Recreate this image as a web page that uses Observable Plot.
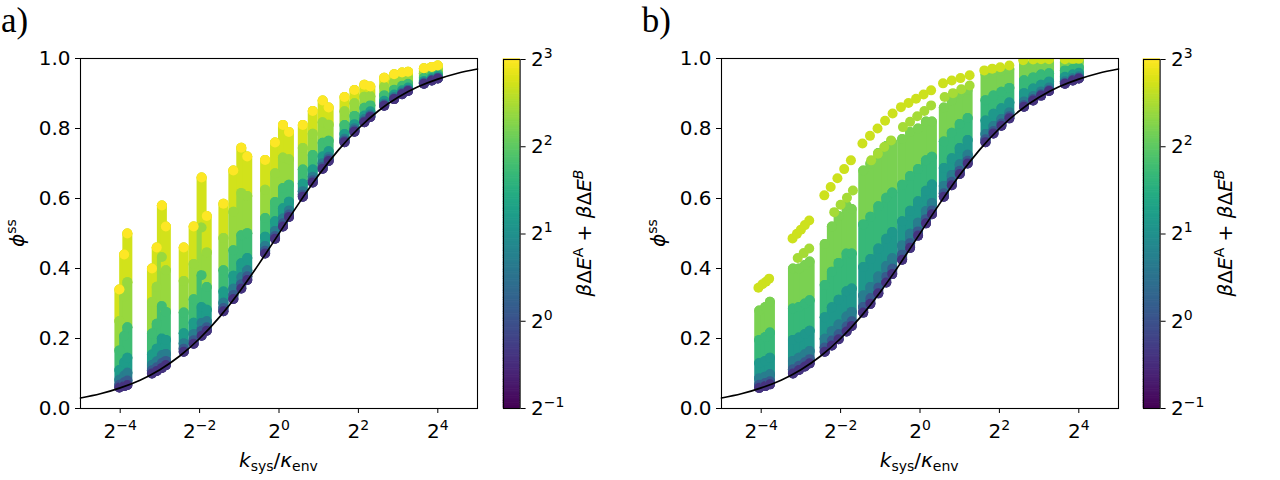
<!DOCTYPE html>
<html>
<head>
<meta charset="utf-8">
<script src="https://cdn.jsdelivr.net/npm/d3@7"></script>
<script src="https://cdn.jsdelivr.net/npm/@observablehq/plot@0.6"></script>
<style>
  body { margin: 0; background: #fff; }
  #wrap { position: relative; width: 1280px; height: 480px; overflow: hidden; background: #fff; }
  .ov text { font-family: "DejaVu Sans", sans-serif; fill: #000; white-space: pre; }
</style>
</head>
<body>
<div id="wrap"></div>
<script>
// ---------- data ----------
// theoretical curve, phi_ss vs log2(k_sys/kappa_env)
const curveLog2 = [-5, -4.5, -4, -3.5, -3, -2.5, -2, -1.5, -1, -0.5, 0, 0.5, 1, 1.5, 2, 2.5, 3, 3.5, 4, 4.5, 5];
const curvePhi  = [0.030, 0.042, 0.059, 0.081, 0.111, 0.150, 0.200, 0.261, 0.333, 0.414, 0.500, 0.586, 0.667, 0.739, 0.800, 0.850, 0.889, 0.919, 0.941, 0.958, 0.970];

// energy levels (beta dE^A + beta dE^B) of the stacked points in each strand
const levelsA = [0.75, 1.1, 1.6, 2.3, 3.4, 5.2, 6.6];
const capA = 8;   // highest-energy point sitting on top of each strand
// panel a strands: [log2 x, phi at each energy level]
const strandsA = [
  [-4.02, 0.060, 0.068, 0.082, 0.110, 0.166, 0.250, 0.340],
  [-3.90, 0.064, 0.075, 0.094, 0.132, 0.207, 0.320, 0.440],
  [-3.82, 0.067, 0.080, 0.102, 0.145, 0.232, 0.361, 0.500],
  [-3.20, 0.100, 0.109, 0.124, 0.154, 0.214, 0.304, 0.400],
  [-3.08, 0.107, 0.118, 0.135, 0.171, 0.242, 0.348, 0.460],
  [-2.95, 0.116, 0.130, 0.153, 0.200, 0.293, 0.433, 0.580],
  [-2.85, 0.124, 0.136, 0.156, 0.196, 0.276, 0.395, 0.520],
  [-2.40, 0.162, 0.171, 0.186, 0.215, 0.274, 0.364, 0.460],
  [-2.15, 0.185, 0.195, 0.212, 0.245, 0.312, 0.413, 0.520],
  [-1.95, 0.208, 0.222, 0.244, 0.290, 0.381, 0.517, 0.660],
  [-1.82, 0.222, 0.232, 0.249, 0.282, 0.347, 0.446, 0.550],
  [-1.40, 0.278, 0.287, 0.302, 0.334, 0.395, 0.487, 0.585],
  [-1.15, 0.313, 0.324, 0.342, 0.379, 0.452, 0.562, 0.680],
  [-0.95, 0.343, 0.355, 0.375, 0.415, 0.495, 0.616, 0.745],
  [-0.80, 0.367, 0.378, 0.395, 0.430, 0.501, 0.607, 0.720],
  [-0.35, 0.443, 0.451, 0.464, 0.491, 0.544, 0.625, 0.710],
  [-0.10, 0.485, 0.493, 0.507, 0.535, 0.590, 0.672, 0.760],
  [ 0.10, 0.520, 0.529, 0.543, 0.572, 0.630, 0.717, 0.810],
  [ 0.25, 0.547, 0.554, 0.566, 0.591, 0.639, 0.712, 0.790],
  [ 0.60, 0.605, 0.611, 0.621, 0.642, 0.683, 0.744, 0.810],
  [ 0.85, 0.646, 0.652, 0.662, 0.683, 0.724, 0.785, 0.850],
  [ 1.10, 0.685, 0.691, 0.701, 0.720, 0.759, 0.818, 0.880],
  [ 1.25, 0.707, 0.712, 0.719, 0.735, 0.765, 0.811, 0.860],
  [ 1.65, 0.761, 0.765, 0.771, 0.784, 0.810, 0.849, 0.890],
  [ 1.90, 0.791, 0.795, 0.801, 0.812, 0.836, 0.872, 0.910],
  [ 2.15, 0.818, 0.821, 0.827, 0.837, 0.859, 0.891, 0.925],
  [ 2.30, 0.833, 0.836, 0.840, 0.849, 0.866, 0.892, 0.920],
  [ 2.65, 0.865, 0.867, 0.871, 0.879, 0.895, 0.919, 0.945],
  [ 2.90, 0.884, 0.886, 0.890, 0.897, 0.911, 0.932, 0.955],
  [ 3.10, 0.898, 0.900, 0.903, 0.909, 0.922, 0.940, 0.960],
  [ 3.25, 0.907, 0.909, 0.911, 0.917, 0.928, 0.944, 0.962],
  [ 3.65, 0.928, 0.929, 0.932, 0.936, 0.945, 0.958, 0.972],
  [ 3.85, 0.937, 0.938, 0.940, 0.944, 0.952, 0.964, 0.976],
  [ 4.00, 0.943, 0.944, 0.946, 0.950, 0.957, 0.968, 0.980]
];

const levelsB = [0.75, 1.1, 1.6, 2.2, 3.2, 4.6];
const strandsB = [
  [-4.05, 0.059, 0.068, 0.086, 0.130, 0.196, 0.280],
  [-3.90, 0.064, 0.073, 0.091, 0.136, 0.204, 0.290],
  [-3.78, 0.069, 0.078, 0.098, 0.145, 0.217, 0.305],
  [-3.20, 0.100, 0.112, 0.136, 0.196, 0.286, 0.400],
  [-3.05, 0.110, 0.122, 0.145, 0.203, 0.290, 0.400],
  [-2.90, 0.120, 0.132, 0.155, 0.213, 0.300, 0.410],
  [-2.78, 0.129, 0.141, 0.164, 0.222, 0.309, 0.420],
  [-2.40, 0.162, 0.174, 0.199, 0.261, 0.353, 0.470],
  [-2.22, 0.180, 0.194, 0.221, 0.289, 0.391, 0.520],
  [-2.05, 0.198, 0.212, 0.240, 0.311, 0.416, 0.550],
  [-1.85, 0.220, 0.234, 0.263, 0.335, 0.443, 0.580],
  [-1.72, 0.236, 0.249, 0.276, 0.343, 0.443, 0.570],
  [-1.43, 0.274, 0.290, 0.323, 0.404, 0.526, 0.680],
  [-1.25, 0.299, 0.315, 0.347, 0.427, 0.548, 0.700],
  [-1.05, 0.329, 0.345, 0.377, 0.457, 0.578, 0.730],
  [-0.85, 0.360, 0.376, 0.407, 0.485, 0.602, 0.750],
  [-0.70, 0.384, 0.399, 0.429, 0.504, 0.617, 0.760],
  [-0.45, 0.425, 0.439, 0.466, 0.535, 0.639, 0.770],
  [-0.25, 0.459, 0.472, 0.499, 0.565, 0.664, 0.790],
  [-0.05, 0.494, 0.506, 0.531, 0.592, 0.684, 0.800],
  [ 0.15, 0.529, 0.541, 0.564, 0.622, 0.709, 0.820],
  [ 0.30, 0.555, 0.566, 0.587, 0.640, 0.719, 0.820],
  [ 0.60, 0.605, 0.615, 0.636, 0.687, 0.763, 0.860],
  [ 0.80, 0.638, 0.648, 0.667, 0.715, 0.788, 0.880],
  [ 1.00, 0.670, 0.679, 0.698, 0.744, 0.813, 0.900],
  [ 1.20, 0.700, 0.708, 0.725, 0.767, 0.830, 0.910],
  [ 1.65, 0.761, 0.769, 0.784, 0.823, 0.881, 0.955],
  [ 1.85, 0.786, 0.793, 0.807, 0.842, 0.894, 0.960],
  [ 2.05, 0.808, 0.814, 0.827, 0.858, 0.905, 0.965],
  [ 2.25, 0.829, 0.835, 0.846, 0.874, 0.916, 0.970],
  [ 2.62, 0.862, 0.867, 0.877, 0.901, 0.938, 0.985],
  [ 2.85, 0.880, 0.884, 0.893, 0.914, 0.946, 0.987],
  [ 3.05, 0.894, 0.898, 0.906, 0.925, 0.954, 0.990],
  [ 3.25, 0.907, 0.910, 0.917, 0.934, 0.958, 0.990],
  [ 3.65, 0.928, 0.930, 0.935, 0.948, 0.966, 0.990],
  [ 3.85, 0.937, 0.939, 0.944, 0.955, 0.971, 0.992],
  [ 4.00, 0.943, 0.945, 0.949, 0.959, 0.974, 0.993]
];

// panel b: rows of high-energy points above the columns [energy, [[log2 x, phi], ...]]
const streaksB = [
  [6.5, [[-4.07, 0.345], [-3.97, 0.355], [-3.88, 0.362], [-3.80, 0.371]]],
  [6.5, [[-3.21, 0.486], [-3.10, 0.499], [-3.00, 0.511], [-2.90, 0.524], [-2.79, 0.537]]],
  [5.5, [[-3.08, 0.430], [-2.93, 0.444], [-2.79, 0.457]]],
  [6.5, [[-2.41, 0.609], [-2.25, 0.633], [-2.08, 0.658], [-1.91, 0.684], [-1.74, 0.709]]],
  [5.5, [[-2.16, 0.561], [-2.00, 0.582], [-1.84, 0.602], [-1.69, 0.623]]],
  [6.5, [[-1.45, 0.757], [-1.26, 0.779], [-1.07, 0.800], [-0.88, 0.822], [-0.69, 0.843]]],
  [5.5, [[-1.23, 0.709], [-1.06, 0.728], [-0.90, 0.747], [-0.73, 0.766]]],
  [6.5, [[-0.48, 0.861], [-0.29, 0.873], [-0.10, 0.885], [0.09, 0.897], [0.28, 0.909]]],
  [5.5, [[-0.43, 0.804], [-0.25, 0.819], [-0.07, 0.835], [0.11, 0.850], [0.28, 0.866]]],
  [6.5, [[0.58, 0.929], [0.80, 0.937], [1.02, 0.944], [1.25, 0.952]]],
  [5.5, [[0.62, 0.890], [0.83, 0.901], [1.04, 0.912], [1.25, 0.923]]],
  [6.5, [[1.62, 0.966], [1.82, 0.971], [2.02, 0.975], [2.25, 0.980]]],
  [6.5, [[2.60, 0.995], [2.85, 0.997], [3.05, 0.998], [3.25, 0.998]]],
  [6.5, [[3.65, 0.998], [3.85, 0.999], [4.00, 0.999]]]
];

const xTicks = [-4, -2, 0, 2, 4];
const yTicks = [0, 0.2, 0.4, 0.6, 0.8, 1.0];
const cTicks = [-1, 0, 1, 2, 3];

// ---------- build tables ----------
// points listed top-down so each line segment takes the colour of its upper point
function expand(strands, levels) {
  const out = [];
  strands.forEach((s, i) => {
    for (let j = levels.length - 1; j >= 0; j--) out.push({s: i, L: s[0], y: s[j + 1], e: levels[j]});
  });
  return out;
}
function expandStreaks(streaks) {
  const out = [];
  streaks.forEach(([e, pts], i) => pts.forEach(([L, y]) => out.push({s: i, L, y, e})));
  return out;
}
const curve = curveLog2.map((L, i) => ({L, y: curvePhi[i]}));
const ptsA = expand(strandsA, levelsA);
const capsA = strandsA.map(s => ({L: s[0], y: s[s.length - 1], e: capA}));
const ptsB = expand(strandsB, levelsB);
const strB = expandStreaks(streaksB);

const supMap = {"-": "\u207B", "0": "\u2070", "1": "\u00B9", "2": "\u00B2", "3": "\u00B3", "4": "\u2074"};
const pow2 = d => "2" + String(d).split("").map(c => supMap[c]).join("");
const unSup = {"\u207B": "\u2212", "\u2070": "0", "\u00B9": "1", "\u00B2": "2", "\u00B3": "3", "\u2074": "4"};

// turn "2⁻⁴" tick labels into a full-size base with a raised smaller exponent
function fixPowers(svg) {
  svg.querySelectorAll("text").forEach(t => {
    const s = t.textContent;
    if (/^2[\u207B\u2070\u00B9\u00B2\u00B3\u2074]+$/.test(s)) {
      const exp = s.slice(1).split("").map(c => unSup[c]).join("");
      while (t.firstChild) t.removeChild(t.firstChild);
      const NS = "http://www.w3.org/2000/svg";
      const b = document.createElementNS(NS, "tspan"); b.textContent = "2";
      const e = document.createElementNS(NS, "tspan"); e.textContent = exp;
      e.setAttribute("font-size", "14"); e.setAttribute("dy", "-8");
      t.appendChild(b); t.appendChild(e);
    }
  });
  return svg;
}

const colorOpts = {type: "log", base: 2, domain: [0.5, 8], scheme: "viridis"};
const font = {fontSize: "20px", fontFamily: "DejaVu Sans, sans-serif", color: "black", background: "transparent", overflow: "visible"};

function panel(pts, caps, streaks) {
  const marks = [
    Plot.line(pts, {x: "L", y: "y", z: "s", stroke: "e", strokeWidth: 10, strokeLinecap: "round", clip: true}),
    Plot.dot(pts, {x: "L", y: "y", r: 5, fill: "e", clip: true})
  ];
  if (caps) marks.push(Plot.dot(caps, {x: "L", y: "y", r: 5, fill: "e", clip: true}));
  if (streaks) marks.push(Plot.dot(streaks, {x: "L", y: "y", r: 5, fill: "e", clip: true}));
  marks.push(Plot.line(curve, {x: "L", y: "y", stroke: "black", strokeWidth: 1.7, curve: "natural"}));
  marks.push(Plot.frame({stroke: "black", strokeWidth: 1.1}));
  return fixPowers(Plot.plot({
    width: 640, height: 480,
    marginLeft: 80, marginRight: 163, marginTop: 58, marginBottom: 72,
    style: font,
    x: {domain: [-5, 5], ticks: xTicks, tickFormat: pow2, tickSize: 5, tickPadding: 10, label: null},
    y: {domain: [0, 1], ticks: yTicks, tickFormat: d3.format(".1f"), tickSize: 5, tickPadding: 5, label: null},
    color: colorOpts,
    marks
  }));
}

function colorbar() {
  const stops = d3.range(-1, 3, 0.02);
  return fixPowers(Plot.plot({
    width: 100, height: 480,
    marginLeft: 10, marginRight: 73.4, marginTop: 59, marginBottom: 72,
    style: font,
    x: {domain: [0, 1], axis: null},
    y: {domain: [-1, 3], ticks: cTicks, tickFormat: pow2, axis: "right", tickSize: 5, tickPadding: 6, label: null},
    color: colorOpts,
    marks: [
      Plot.rect(stops, {x1: 0, x2: 1, y1: d => d, y2: d => d + 0.025, fill: d => 2 ** (d + 0.01), stroke: d => 2 ** (d + 0.01), strokeWidth: 0.5}),
      Plot.frame({stroke: "black", strokeWidth: 1.1})
    ]
  }));
}

const wrap = document.getElementById("wrap");
function place(node, left) { node.style.position = "absolute"; node.style.left = left + "px"; node.style.top = "0px"; wrap.appendChild(node); }
place(panel(ptsA, capsA, null), 0);
place(colorbar(), 492.7);
place(panel(ptsB, null, strB), 640.7);
place(colorbar(), 1133.4);

// ---------- annotations ----------
const NS = "http://www.w3.org/2000/svg";
const ov = document.createElementNS(NS, "svg");
ov.setAttribute("class", "ov");
ov.setAttribute("width", 1280); ov.setAttribute("height", 480);
ov.style.position = "absolute"; ov.style.left = "0px"; ov.style.top = "0px"; ov.style.pointerEvents = "none";
const offs = [0, 640.7];
const names = ["a)", "b)"];
let html = "";
offs.forEach((o, i) => {
  html += `<text x="${o + 1}" y="32" style="font-family:'Liberation Serif','Times New Roman',serif;font-size:35px">${names[i]}</text>`;
  html += `<text transform="translate(${o + 24},233) rotate(-90)" text-anchor="middle" font-size="20"><tspan font-style="italic">\u03D5</tspan><tspan font-size="14" dy="-8">ss</tspan></text>`;
  html += `<text x="${o + 278.5}" y="467" text-anchor="middle" font-size="20"><tspan font-style="italic">k</tspan><tspan font-size="14" dy="4">sys</tspan><tspan dy="-4">/</tspan><tspan font-style="italic">\u03BA</tspan><tspan font-size="14" dy="4">env</tspan></text>`;
  html += `<text transform="translate(${o + 591},233) rotate(-90)" text-anchor="middle" font-size="20"><tspan font-style="italic">\u03B2</tspan>\u0394<tspan font-style="italic">E</tspan><tspan font-size="14" dy="-8">A</tspan><tspan dy="8"> + </tspan><tspan font-style="italic">\u03B2</tspan>\u0394<tspan font-style="italic">E</tspan><tspan font-size="14" dy="-8" font-style="italic">B</tspan></text>`;
});
ov.innerHTML = html;
wrap.appendChild(ov);
</script>
</body>
</html>
